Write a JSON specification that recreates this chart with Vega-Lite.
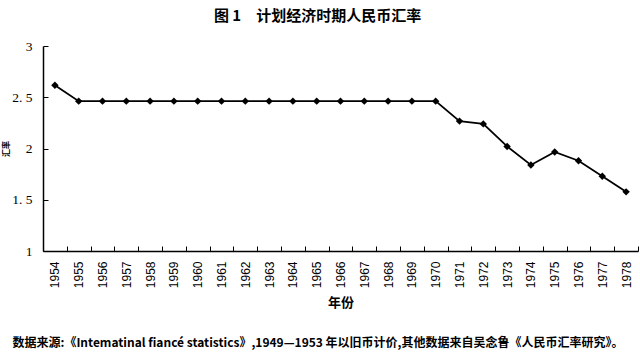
{
  "$schema": "https://vega.github.io/schema/vega-lite/v6.json",
  "width": 595,
  "height": 205,
  "autosize": "none",
  "padding": {"left": 43, "top": 46, "right": 2, "bottom": 106},
  "background": "white",
  "title": {
    "text": "图 1　计划经济时期人民币汇率",
    "anchor": "middle",
    "frame": "group",
    "dx": -23,
    "offset": 15,
    "fontSize": 15,
    "font": "Noto Sans CJK SC",
    "fontWeight": "bold",
    "color": "black"
  },
  "data": {
    "values": [
      {"year": "1954", "rate": 2.617},
      {"year": "1955", "rate": 2.4618},
      {"year": "1956", "rate": 2.4618},
      {"year": "1957", "rate": 2.4618},
      {"year": "1958", "rate": 2.4618},
      {"year": "1959", "rate": 2.4618},
      {"year": "1960", "rate": 2.4618},
      {"year": "1961", "rate": 2.4618},
      {"year": "1962", "rate": 2.4618},
      {"year": "1963", "rate": 2.4618},
      {"year": "1964", "rate": 2.4618},
      {"year": "1965", "rate": 2.4618},
      {"year": "1966", "rate": 2.4618},
      {"year": "1967", "rate": 2.4618},
      {"year": "1968", "rate": 2.4618},
      {"year": "1969", "rate": 2.4618},
      {"year": "1970", "rate": 2.4618},
      {"year": "1971", "rate": 2.2673},
      {"year": "1972", "rate": 2.2401},
      {"year": "1973", "rate": 2.0202},
      {"year": "1974", "rate": 1.8397},
      {"year": "1975", "rate": 1.9663},
      {"year": "1976", "rate": 1.8803},
      {"year": "1977", "rate": 1.73},
      {"year": "1978", "rate": 1.5771}
    ]
  },
  "config": {
    "view": {"stroke": null},
    "axis": {"grid": false, "domainColor": "black", "tickColor": "black", "labelColor": "black", "titleColor": "black"}
  },
  "resolve": {"axis": {"x": "independent"}},
  "layer": [
    {
      "mark": {"type": "line", "color": "black", "strokeWidth": 1.8},
      "encoding": {
        "x": {
          "field": "year",
          "type": "ordinal",
          "bandPosition": 0.5,
          "scale": {"type": "band", "paddingInner": 0, "paddingOuter": 0},
          "axis": {
            "orient": "bottom",
            "title": "年份",
            "titleFont": "Noto Sans CJK SC",
            "titleFontSize": 13,
            "titleFontWeight": "bold",
            "titlePadding": 9,
            "labelAngle": -90,
            "labelFont": "Liberation Sans",
            "labelFontSize": 12,
            "labelPadding": 15,
            "tickBand": "extent",
            "tickSize": -5,
            "domainWidth": 1.5
          }
        },
        "y": {
          "field": "rate",
          "type": "quantitative",
          "scale": {"domain": [1, 3], "nice": false, "zero": false},
          "axis": {
            "values": [1, 1.5, 2, 2.5, 3],
            "format": "~g",
            "title": "汇率",
            "titleFont": "Noto Sans CJK SC",
            "titleFontSize": 8,
            "titlePadding": 1,
            "labelFont": "Liberation Serif",
            "labelFontSize": 13.5,
            "labelExpr": "replace(datum.label, '.', '. ')",
            "labelPadding": 16,
            "tickSize": -5,
            "domainWidth": 1.5
          }
        }
      }
    },
    {
      "mark": {"type": "point", "shape": "diamond", "filled": true, "color": "black", "opacity": 1, "size": 55},
      "encoding": {
        "x": {
          "field": "year",
          "type": "ordinal",
          "bandPosition": 0.5,
          "axis": {
            "orient": "bottom",
            "labels": false,
            "ticks": false,
            "domain": false,
            "title": "数据来源:《Intematinal fiancé statistics》,1949—1953 年以旧币计价,其他数据来自吴念鲁《人民币汇率研究》。",
            "titleFont": "Noto Sans CJK SC",
            "titleFontSize": 12,
            "titleFontWeight": "bold",
            "titleAnchor": "start",
            "titleAlign": "left",
            "titleBaseline": "middle",
            "titleX": -31,
            "titleY": 91
          }
        },
        "y": {"field": "rate", "type": "quantitative"}
      }
    }
  ]
}
